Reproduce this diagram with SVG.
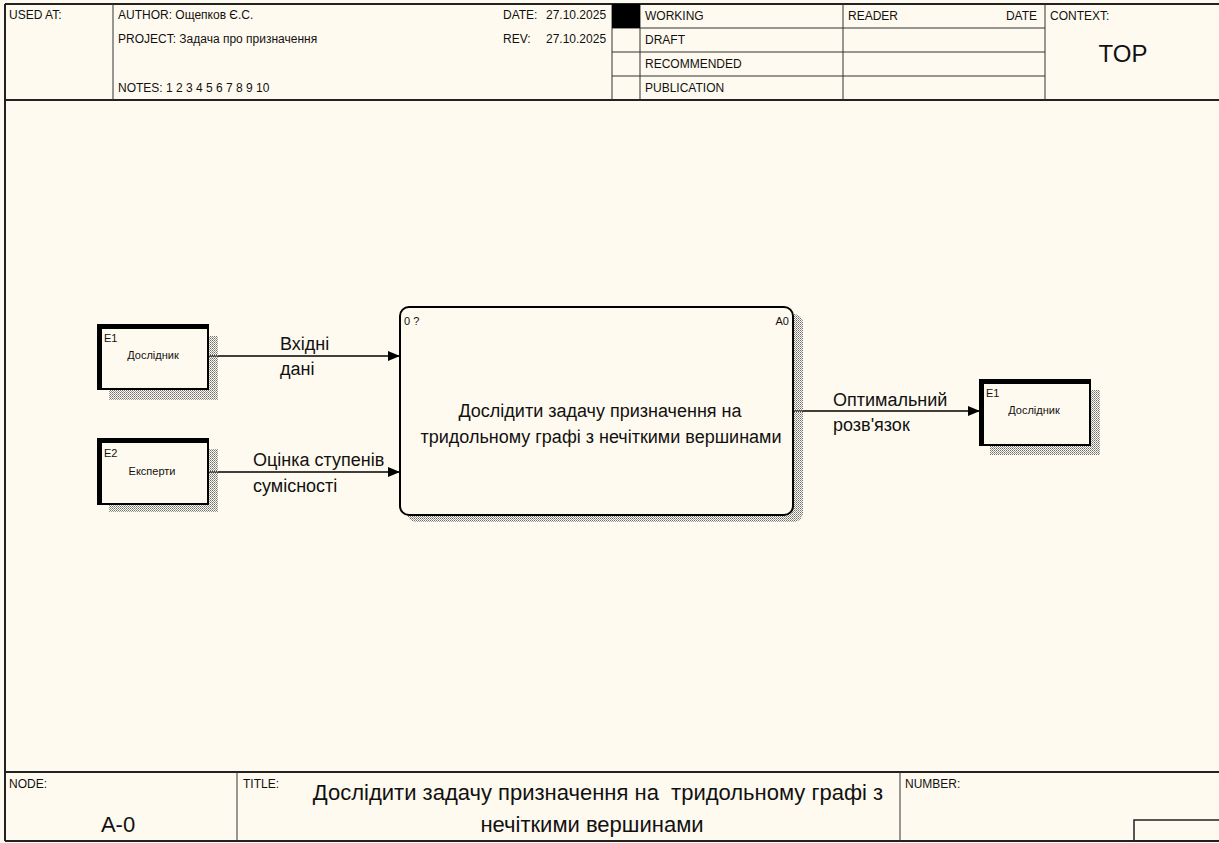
<svg xmlns="http://www.w3.org/2000/svg" width="1219" height="843" viewBox="0 0 1219 843">
  <defs>
    <pattern id="hatch" width="2" height="2" patternUnits="userSpaceOnUse">
      <rect x="0" y="0" width="1" height="1" fill="#6e6e6e"/>
      <rect x="1" y="1" width="1" height="1" fill="#9a9a9a"/>
    </pattern>
    <marker id="arrow" viewBox="0 0 12 10" refX="12" refY="5" markerWidth="12" markerHeight="10" markerUnits="userSpaceOnUse" orient="auto">
      <path d="M0,0 L12,5 L0,10 Z" fill="#000"/>
    </marker>
  </defs>
  <style>
    text { font-family: "Liberation Sans", Arial, sans-serif; fill: #111; }
    .hdr { font-size: 12px; }
    .small { font-size: 11px; }
    .lbl { font-size: 18px; }
    .big { font-size: 22px; }
    .grid { stroke: #333; stroke-width: 1; fill: none; }
    .frame { stroke: #222; stroke-width: 2; fill: none; }
    .ext { fill: #fffaef; stroke: #000; stroke-width: 2; }
    .extedge { stroke: #000; stroke-width: 4; fill: none; }
    .flow { stroke: #000; stroke-width: 1.3; fill: none; marker-end: url(#arrow); }
  </style>

  <!-- paper -->
  <rect x="0" y="0" width="1219" height="843" fill="#fffaef"/>

  <!-- header block -->
  <g id="header">
    <line class="frame" x1="5" y1="4" x2="1219" y2="4"/>
    <line class="frame" x1="5" y1="100" x2="1219" y2="100"/>
    <line class="frame" x1="5" y1="4" x2="5" y2="841"/>
    <line class="grid" x1="113" y1="4" x2="113" y2="100" stroke-width="2"/>
    <line class="grid" x1="612" y1="4" x2="612" y2="100" stroke-width="2"/>
    <line class="grid" x1="640" y1="4" x2="640" y2="100"/>
    <line class="grid" x1="843" y1="4" x2="843" y2="100"/>
    <line class="grid" x1="1045" y1="4" x2="1045" y2="100"/>
    <line class="grid" x1="612" y1="28" x2="1045" y2="28"/>
    <line class="grid" x1="612" y1="52" x2="1045" y2="52"/>
    <line class="grid" x1="612" y1="76" x2="1045" y2="76"/>
    <rect x="612" y="4" width="28" height="24" fill="#000"/>

    <text class="hdr" x="9" y="19">USED AT:</text>
    <text class="hdr" x="118" y="19">AUTHOR:  Ощепков Є.С.</text>
    <text class="hdr" x="118" y="43">PROJECT:  Задача про призначення</text>
    <text class="hdr" x="118" y="92">NOTES:  1  2  3  4  5  6  7  8  9  10</text>
    <text class="hdr" x="503" y="19">DATE:</text>
    <text class="hdr" x="546" y="19">27.10.2025</text>
    <text class="hdr" x="503" y="43">REV:</text>
    <text class="hdr" x="546" y="43">27.10.2025</text>
    <text class="hdr" x="645" y="20">WORKING</text>
    <text class="hdr" x="645" y="44">DRAFT</text>
    <text class="hdr" x="645" y="68">RECOMMENDED</text>
    <text class="hdr" x="645" y="92">PUBLICATION</text>
    <text class="hdr" x="848" y="20">READER</text>
    <text class="hdr" x="1037" y="20" text-anchor="end">DATE</text>
    <text class="hdr" x="1050" y="20">CONTEXT:</text>
    <text x="1123" y="62" font-size="24" text-anchor="middle">TOP</text>
  </g>

  <!-- footer block -->
  <g id="footer">
    <line class="frame" x1="5" y1="772" x2="1219" y2="772"/>
    <line class="frame" x1="5" y1="841" x2="1219" y2="841"/>
    <line class="grid" x1="237" y1="772" x2="237" y2="841"/>
    <line class="grid" x1="900" y1="772" x2="900" y2="841"/>
    <rect x="1134" y="820" width="90" height="21" fill="none" stroke="#222" stroke-width="1.5"/>
    <text class="hdr" x="9" y="788">NODE:</text>
    <text x="118" y="832" font-size="22" text-anchor="middle">A-0</text>
    <text class="hdr" x="243" y="788">TITLE:</text>
    <text class="big" x="598" y="800" text-anchor="middle" xml:space="preserve">Дослідити задачу призначення на  тридольному графі з</text>
    <text class="big" x="592" y="832" text-anchor="middle">нечіткими вершинами</text>
    <text class="hdr" x="905" y="788">NUMBER:</text>
  </g>

  <!-- arrows -->
  <g id="connectors">
    <line class="flow" x1="208" y1="356" x2="400" y2="356"/>
    <line class="flow" x1="208" y1="472" x2="400" y2="472"/>
    <line class="flow" x1="793" y1="411" x2="980" y2="411"/>
    <text class="lbl" x="280" y="350">Вхідні</text>
    <text class="lbl" x="280" y="375">дані</text>
    <text class="lbl" x="253" y="466">Оцінка ступенів</text>
    <text class="lbl" x="253" y="492">сумісності</text>
    <text class="lbl" x="833" y="406">Оптимальний</text>
    <text class="lbl" x="833" y="431">розв'язок</text>
  </g>

  <!-- activity A0 -->
  <g id="A0">
    <rect x="407" y="314" width="396" height="208" rx="9" fill="url(#hatch)"/>
    <rect x="400" y="307" width="393" height="208" rx="9" fill="#fffaef" stroke="#000" stroke-width="2"/>
    <text class="small" x="404" y="325" fill="#333">0 ?</text>
    <text class="small" x="789" y="325" text-anchor="end" fill="#333">A0</text>
    <text class="lbl" x="600" y="417" text-anchor="middle">Дослідити задачу призначення на</text>
    <text class="lbl" x="601" y="443" text-anchor="middle">тридольному графі з нечіткими вершинами</text>
  </g>

  <!-- external entity E1 (source) -->
  <g id="E1-src">
    <rect x="109" y="336" width="109" height="64" fill="url(#hatch)"/>
    <rect class="ext" x="98" y="325" width="110" height="64"/>
    <path class="extedge" d="M100,389 V327 H208"/>
    <text class="small" x="104" y="342">E1</text>
    <text class="small" x="153" y="359" text-anchor="middle">Дослідник</text>
  </g>

  <!-- external entity E2 -->
  <g id="E2">
    <rect x="109" y="449" width="109" height="63" fill="url(#hatch)"/>
    <rect class="ext" x="98" y="439" width="110" height="65"/>
    <path class="extedge" d="M100,504 V441 H208"/>
    <text class="small" x="104" y="457">E2</text>
    <text class="small" x="152" y="475" text-anchor="middle">Експерти</text>
  </g>

  <!-- external entity E1 (destination) -->
  <g id="E1-dst">
    <rect x="990" y="390" width="110" height="65" fill="url(#hatch)"/>
    <rect class="ext" x="980" y="380" width="110" height="65"/>
    <path class="extedge" d="M982,445 V382 H1090"/>
    <text class="small" x="986" y="397">E1</text>
    <text class="small" x="1034" y="414" text-anchor="middle">Дослідник</text>
  </g>
</svg>
